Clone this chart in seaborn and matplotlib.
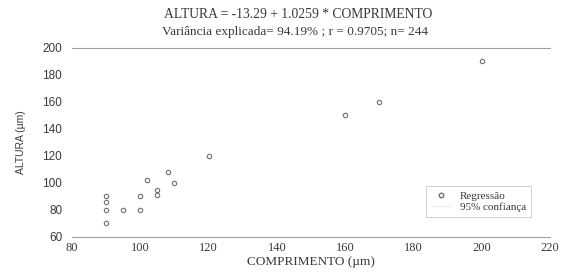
import matplotlib
matplotlib.use("Agg")
import matplotlib.pyplot as plt
import seaborn as sns
import pandas as pd
from matplotlib.lines import Line2D

# Data
comprimento = [90, 90, 90, 90, 95, 100, 100, 102, 105, 105, 108, 110, 120, 160, 170, 200]
altura = [90, 86, 80, 70, 80, 90, 80, 102, 95, 91, 108, 100, 120, 150, 160, 190]
x_ticks = [80, 100, 120, 140, 160, 180, 200, 220]
y_ticks = [60, 80, 100, 120, 140, 160, 180, 200]

df = pd.DataFrame({"comprimento": comprimento, "altura": altura})

sns.set_theme(style="white")
serif = ["Liberation Serif", "DejaVu Serif"]
sans = ["Liberation Sans", "DejaVu Sans"]
txt = "#3a3a3a"

fig = plt.figure(figsize=(5.62, 2.72), dpi=100)
ax = fig.add_axes([0.128, 0.129, 0.851, 0.695])

sns.scatterplot(data=df, x="comprimento", y="altura", ax=ax,
                marker="o", s=10, facecolor="white", edgecolor="#707070",
                linewidth=0.8, legend=False)

ax.set_xlim(80, 220)
ax.set_ylim(60, 200)
ax.set_xticks(x_ticks)
ax.set_yticks(y_ticks)
ax.set_xticklabels([str(v) for v in x_ticks], family=serif, fontsize=9, color=txt)
ax.set_yticklabels([str(v) for v in y_ticks], family=sans, fontsize=8.5, color=txt)
ax.tick_params(axis="x", length=0, pad=4)
ax.tick_params(axis="y", length=0, pad=7)

for side in ["left", "right"]:
    ax.spines[side].set_visible(False)
for side in ["top", "bottom"]:
    ax.spines[side].set_color("#a0a0a0")
    ax.spines[side].set_linewidth(0.8)

ax.set_xlabel("COMPRIMENTO (µm)", family=serif, fontsize=9.5, color=txt, labelpad=1)
ax.set_ylabel("ALTURA (µm)", family=sans, fontsize=7.5, color=txt, labelpad=12)

fig.text(0.53, 0.945, "ALTURA = -13.29 + 1.0259 * COMPRIMENTO",
         ha="center", va="center", family=serif, fontsize=9.8, color=txt)
fig.text(0.525, 0.882, "Variância explicada= 94.19% ; r = 0.9705; n= 244",
         ha="center", va="center", family=serif, fontsize=9.5, color=txt)

handles = [
    Line2D([], [], marker="o", linestyle="none", markersize=3.2,
           markerfacecolor="white", markeredgecolor="#707070"),
    Line2D([], [], color="#ececec", linewidth=0.8),
]
leg = ax.legend(handles, ["Regressão", "95% confiança"], loc="lower right",
                bbox_to_anchor=(0.972, 0.075), frameon=True, fancybox=False,
                prop={"family": serif, "size": 8}, handlelength=1.8,
                handletextpad=0.8, borderpad=0.45, labelspacing=0.15)
leg.get_frame().set_edgecolor("#c4c4c4")
leg.get_frame().set_linewidth(0.7)
for t in leg.get_texts():
    t.set_color(txt)

fig.savefig("out.png", dpi=100)
